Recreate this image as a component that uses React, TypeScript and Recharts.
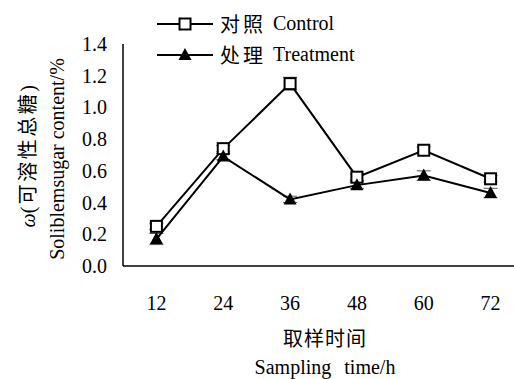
import { LineChart, Line, XAxis, YAxis, Legend, ErrorBar } from 'recharts'

// sampling times (h) and soluble sugar content (%)
const hours = [12, 24, 36, 48, 60, 72]
const controlSugar = [0.25, 0.74, 1.15, 0.56, 0.73, 0.55]
const controlErr = [0.02, 0.02, 0.04, 0.02, 0.02, 0.02]
const treatmentSugar = [0.17, 0.69, 0.42, 0.51, 0.57, 0.46]
const treatmentErr = [0.035, 0.02, 0.02, 0.02, 0.03, 0.03]
const yTicks = [0, 0.2, 0.4, 0.6, 0.8, 1.0, 1.2, 1.4]

const seriesKeys = ['control', 'treatment']
const seriesCn: Record<string, string> = { control: '对照', treatment: '处理' }
const seriesEn: Record<string, string> = { control: 'Control', treatment: 'Treatment' }

const chartData = hours.map((hour, i) => ({
  hour,
  control: controlSugar[i],
  controlErr: controlErr[i],
  treatment: treatmentSugar[i],
  treatmentErr: treatmentErr[i]
}))

const step = hours[1] - hours[0]
const xDomain = [hours[0] - step / 2, hours[hours.length - 1] + step / 2]
// tick marks sit between the sampling times
const bandEdges = hours.map(h => h + step / 2)

const FONT = "Liberation Serif, Noto Sans CJK SC, serif"

const SquareDot = (props: any) => {
  const { cx, cy } = props
  if (cx == null || cy == null) return null
  return <rect x={cx - 5.5} y={cy - 5.5} width={11} height={11} fill="#fff" stroke="#000" strokeWidth={2} />
}

const TriangleDot = (props: any) => {
  const { cx, cy } = props
  if (cx == null || cy == null) return null
  return <polygon points={`${cx},${cy - 7} ${cx - 6.5},${cy + 5} ${cx + 6.5},${cy + 5}`} fill="#000" />
}

const LegendMarker = ({ kind }: { kind: string }) => (
  <svg width={58} height={16}>
    <line x1={0} y1={8} x2={56} y2={8} stroke="#000" strokeWidth={2} />
    {kind === 'control'
      ? <rect x={22.5} y={2.5} width={11} height={11} fill="#fff" stroke="#000" strokeWidth={2} />
      : <polygon points="28,1 21.5,13 34.5,13" fill="#000" />}
  </svg>
)

const renderLegend = () => (
  <div style={{ fontFamily: FONT, fontSize: 20, color: '#000' }}>
    {seriesKeys.map(key => (
      <div key={key} style={{ display: 'flex', alignItems: 'center', height: 31 }}>
        <LegendMarker kind={key} />
        <span style={{ marginLeft: 5, letterSpacing: 3, whiteSpace: 'nowrap' }}>{seriesCn[key]}</span>
        <span style={{ marginLeft: 7, whiteSpace: 'nowrap' }}>{seriesEn[key]}</span>
      </div>
    ))}
  </div>
)

const XTick = ({ x, y, payload }: any) => (
  <text x={x} y={y + 36} textAnchor="middle" fontFamily={FONT} fontSize={20} fill="#000">
    {payload.value}
  </text>
)

const YTick = ({ x, y, payload }: any) => (
  <text x={x} y={y} textAnchor="end" dominantBaseline="central" fontFamily={FONT} fontSize={20} fill="#000">
    {Number(payload.value).toFixed(1)}
  </text>
)

const YTitle = ({ viewBox }: any) => {
  const cy = viewBox.y + viewBox.height / 2
  return (
    <g fontFamily={FONT} fontSize={20} fill="#000">
      <text x={28} y={cy} textAnchor="middle" dominantBaseline="central" transform={`rotate(-90, 28, ${cy})`}>
        <tspan fontStyle="italic">ω</tspan>
        <tspan letterSpacing={2.5}>(可溶性总糖)</tspan>
      </text>
      <text x={57} y={cy + 4} textAnchor="middle" dominantBaseline="central" transform={`rotate(-90, 57, ${cy + 4})`}>
        Soliblemsugar content/%
      </text>
    </g>
  )
}

const XTitle = ({ viewBox }: any) => {
  const cx = 325
  return (
    <g fontFamily={FONT} fill="#000">
      <text x={cx} y={viewBox.y + 73} textAnchor="middle" dominantBaseline="central" fontSize={20} letterSpacing={1}>取样时间</text>
      <text x={cx} y={viewBox.y + 101} textAnchor="middle" dominantBaseline="central" fontSize={20} wordSpacing={8}>
        Sampling time/h
      </text>
    </g>
  )
}

export default function App() {
  return (
    <div style={{ position: 'absolute', left: 0, top: 0, width: 514, height: 379, overflow: 'hidden', background: '#fff' }}>
      <LineChart width={524} height={379} data={chartData} margin={{ top: 44, right: 0, bottom: 0, left: 0 }}>
        <XAxis
          dataKey="hour"
          type="number"
          domain={xDomain}
          ticks={hours}
          axisLine={false}
          tickLine={false}
          height={113}
          tick={XTick}
          label={(p: any) => <XTitle {...p} />}
        />
        <XAxis
          xAxisId="edge"
          dataKey="hour"
          type="number"
          domain={xDomain}
          allowDataOverflow
          ticks={bandEdges}
          tick={false}
          mirror
          height={1}
          tickSize={6}
          stroke="#000"
          strokeWidth={1.5}
        />
        <YAxis
          domain={[0, 1.4]}
          ticks={yTicks}
          axisLine={false}
          tickLine={false}
          tickMargin={10}
          width={123}
          tick={YTick}
          label={(p: any) => <YTitle {...p} />}
        />
        <YAxis
          yAxisId="edge"
          domain={[0, 1.4]}
          allowDataOverflow
          ticks={yTicks}
          tick={false}
          mirror
          width={1}
          tickSize={5}
          stroke="#000"
          strokeWidth={1.5}
        />
        <Legend
          layout="vertical"
          align="center"
          verticalAlign="middle"
          content={renderLegend}
          wrapperStyle={{ position: 'absolute', top: 8, left: 157, width: 'auto' }}
        />
        <Line
          dataKey="control"
          name="对照 Control"
          stroke="#000"
          strokeWidth={2}
          dot={SquareDot}
          activeDot={false}
          isAnimationActive={false}
        >
          <ErrorBar dataKey="controlErr" width={7} stroke="#555" strokeWidth={1} direction="y" />
        </Line>
        <Line
          dataKey="treatment"
          name="处理 Treatment"
          stroke="#000"
          strokeWidth={2}
          dot={TriangleDot}
          activeDot={false}
          isAnimationActive={false}
        >
          <ErrorBar dataKey="treatmentErr" width={7} stroke="#555" strokeWidth={1} direction="y" />
        </Line>
      </LineChart>
    </div>
  )
}
